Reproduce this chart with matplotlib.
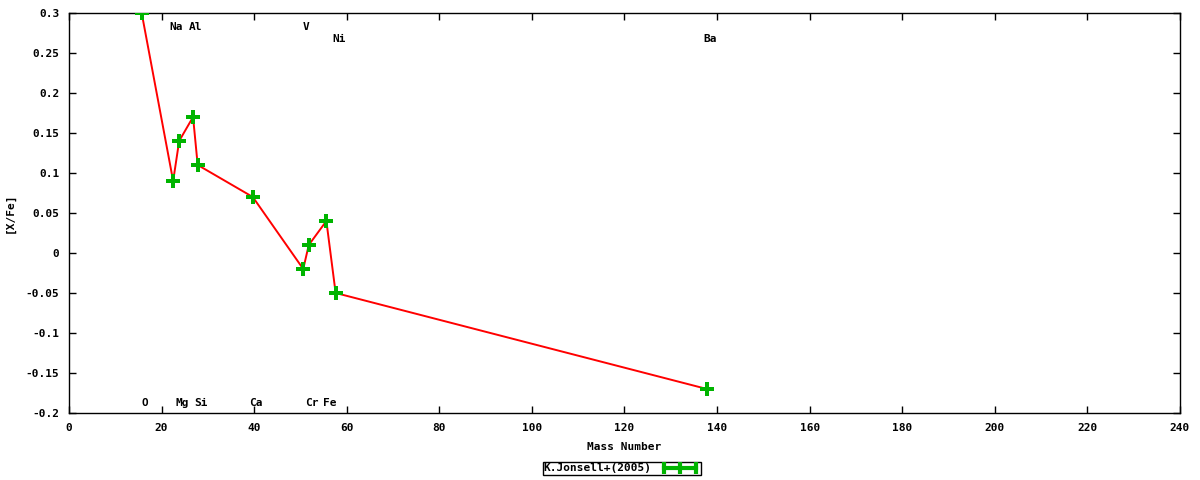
import matplotlib.pyplot as plt
from matplotlib.lines import Line2D

elements = ['O', 'Na', 'Mg', 'Al', 'Si', 'Ca', 'V', 'Cr', 'Fe', 'Ni', 'Ba']
mass = [15.7, 22.5, 23.8, 26.8, 27.8, 39.7, 50.6, 51.8, 55.6, 57.6, 137.8]
xfe = [0.30, 0.09, 0.14, 0.17, 0.11, 0.07, -0.02, 0.01, 0.04, -0.05, -0.17]
# where each element name is written on the plot
label_y = [-0.188, 0.283, -0.188, 0.283, -0.188, -0.188, 0.283, -0.188, -0.188, 0.268, 0.268]

xticks = list(range(0, 241, 20))
yticks = [0.3, 0.25, 0.2, 0.15, 0.1, 0.05, 0, -0.05, -0.1, -0.15, -0.2]

mono = 'DejaVu Sans Mono'
fs = 8
green = '#00b400'

fig = plt.figure(figsize=(12, 4.8), dpi=100)
ax = fig.add_axes([0.0575, 0.1396, 0.9258, 0.8334])

ax.plot(mass, xfe, color='red', lw=1.4, zorder=2)
ax.plot(mass, xfe, ls='none', marker='P', markersize=10, color=green,
        markeredgewidth=0, zorder=3)

for el, m, ly in zip(elements, mass, label_y):
    ax.annotate(el, (m, ly), xytext=(3, 0), textcoords='offset pixels',
                ha='center', va='center', fontsize=fs,
                family=mono, fontweight='bold')

ax.set_xlim(0, 240)
ax.set_ylim(-0.2, 0.3)
ax.set_xticks(xticks)
ax.set_yticks(yticks)
ax.set_xticklabels([str(t) for t in xticks], family=mono, fontweight='bold', fontsize=fs)
ax.set_yticklabels(['%g' % t for t in yticks], family=mono, fontweight='bold', fontsize=fs)
ax.tick_params(direction='in', length=5, top=True, right=True, width=1, pad=7)
for s in ax.spines.values():
    s.set_linewidth(1)

ax.set_xlabel('Mass Number', family=mono, fontweight='bold', fontsize=fs, labelpad=7)
ax.set_ylabel('[X/Fe]', family=mono, fontweight='bold', fontsize=fs, labelpad=8)

handle = Line2D([0], [0], color=green, lw=3, marker='|', markersize=9,
                markeredgewidth=3)
leg = fig.legend([handle], ['K.Jonsell+(2005)'], loc='center',
                 bbox_to_anchor=(0.518, 0.024), numpoints=3, markerfirst=False,
                 fancybox=False, edgecolor='black', framealpha=1,
                 prop={'family': mono, 'weight': 'bold', 'size': fs},
                 borderpad=0.1, handlelength=3.5, handletextpad=0.8,
                 borderaxespad=0)
leg.get_frame().set_linewidth(1)

fig.savefig('out.png', dpi=100)
